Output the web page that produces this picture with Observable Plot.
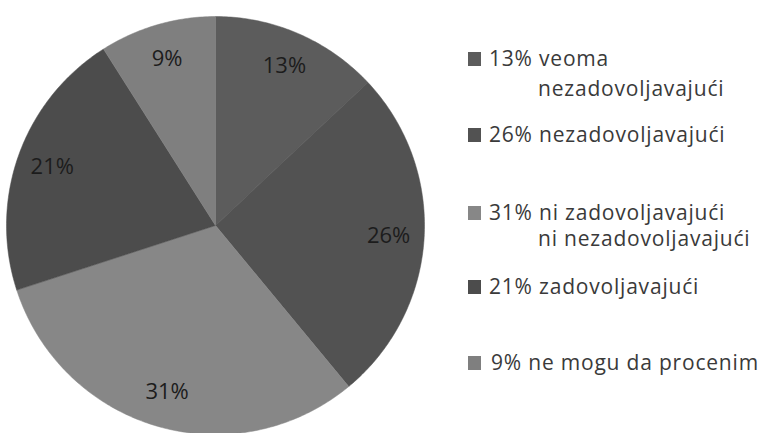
<!DOCTYPE html>
<html>
<head>
<meta charset="utf-8">
<script src="https://cdn.jsdelivr.net/npm/d3@7"></script>
<script src="https://cdn.jsdelivr.net/npm/@observablehq/plot@0.6"></script>
<style>
  html, body { margin: 0; padding: 0; background: #fff; }
  #wrap { position: relative; width: 766px; height: 433px; overflow: hidden; }
  #legend { position: absolute; left: 0; top: 0; width: 766px; height: 433px; pointer-events: none;
            font-family: "Open Sans", sans-serif; font-size: 21px; letter-spacing: 0.8px; color: #3a3a3a; white-space: nowrap; }
  .ln { position: absolute; line-height: 30px; height: 30px; }
  .sw { position: absolute; left: 468px; width: 13px; height: 14px; }
</style>
</head>
<body>
<div id="wrap"><div id="chart"></div><div id="legend"></div></div>
<script>
const categories = ["veoma nezadovoljavajući", "nezadovoljavajući", "ni zadovoljavajući ni nezadovoljavajući", "zadovoljavajući", "ne mogu da procenim"];
const values = [13, 26, 31, 21, 9];
const colors = ["#5c5c5c", "#525252", "#878787", "#4c4c4c", "#7f7f7f"];
const legendFirst = ["13% veoma", "26% nezadovoljavajući", "31% ni zadovoljavajući", "21% zadovoljavajući", "9% ne mogu da procenim"];
const legendSecond = ["nezadovoljavajući", "", "ni nezadovoljavajući", "", ""];
const legendRowY = [59, 135, 213, 287, 363];
const legendSecondY = [89, null, 239, null, null];

const cx = 215, cy = 225, R = 209;
const arcs = d3.pie().sort(null).value(d => d.value)(values.map((v, i) => ({value: v, cat: categories[i], color: colors[i]})));

const pts = [];
arcs.forEach((a, i) => {
  pts.push({i, x: 0, y: 0});
  const n = Math.max(4, Math.ceil((a.endAngle - a.startAngle) * 80));
  for (let k = 0; k <= n; k++) {
    const t = a.startAngle + (a.endAngle - a.startAngle) * k / n;
    pts.push({i, x: Math.sin(t), y: Math.cos(t)});
  }
  pts.push({i, x: 0, y: 0});
});
const labels = arcs.map((a, i) => {
  const m = (a.startAngle + a.endAngle) / 2;
  return {x: 0.83 * Math.sin(m), y: 0.83 * Math.cos(m), text: values[i] + "%"};
});

const chart = Plot.plot({
  width: 766, height: 433,
  margin: 0,
  x: {domain: [-1, 1], range: [cx - R, cx + R], axis: null},
  y: {domain: [-1, 1], range: [cy + R, cy - R], axis: null},
  style: {background: "#fff"},
  marks: [
    Plot.line(pts, {x: "x", y: "y", z: "i", fill: d => colors[d.i], stroke: d => colors[d.i], strokeWidth: 0.5, curve: "linear"}),
    Plot.text(labels, {x: "x", y: "y", text: "text", fill: "#1c1c1c", fontSize: 22, fontFamily: "'Open Sans', sans-serif"})
  ]
});
document.getElementById("chart").appendChild(chart);

const lg = document.getElementById("legend");
function addLine(text, left, centerY) {
  const d = document.createElement("div");
  d.className = "ln";
  d.style.left = left + "px";
  d.style.top = (centerY - 16) + "px";
  d.textContent = text;
  lg.appendChild(d);
}
legendFirst.forEach((t, i) => {
  const s = document.createElement("div");
  s.className = "sw";
  s.style.background = colors[i];
  s.style.top = (legendRowY[i] - 7) + "px";
  lg.appendChild(s);
  addLine(t, i === 4 ? 491 : 489, legendRowY[i]);
  if (legendSecond[i]) addLine(legendSecond[i], 538, legendSecondY[i]);
});
</script>
</body>
</html>
